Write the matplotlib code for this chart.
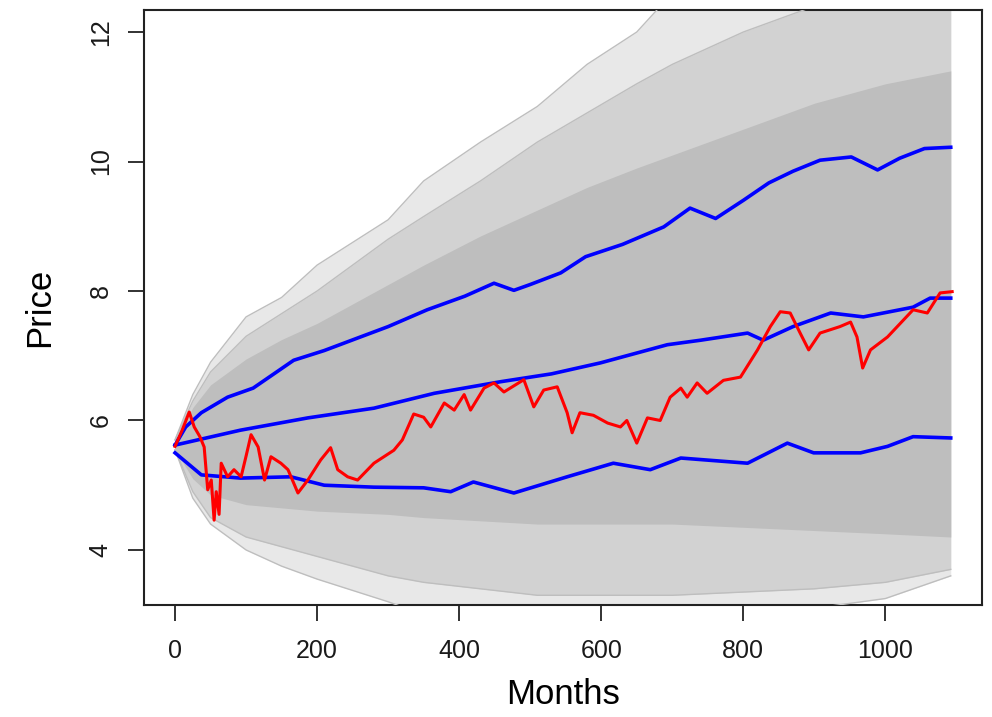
import matplotlib
matplotlib.use("Agg")
import numpy as np
import matplotlib.pyplot as plt

# ---- datos (meses, precio) ----
# banda gris: envolventes de las trayectorias simuladas
band_months = [0, 25, 50, 100, 150, 200, 300, 350, 430, 510, 580, 650, 700, 800, 900, 1000, 1092]
core_upper = [5.65, 6.2, 6.55, 6.95, 7.25, 7.5, 8.1, 8.4, 8.85, 9.25, 9.6, 9.9, 10.1, 10.5, 10.9, 11.2, 11.4]
mid_upper = [5.7, 6.3, 6.75, 7.3, 7.65, 8.0, 8.8, 9.15, 9.7, 10.3, 10.75, 11.2, 11.5, 12.0, 12.4, 12.6, 12.6]
outer_upper = [5.7, 6.4, 6.9, 7.6, 7.9, 8.4, 9.1, 9.7, 10.3, 10.85, 11.5, 12.0, 12.6, 12.6, 12.6, 12.6, 12.6]
core_lower = [5.55, 5.1, 4.85, 4.7, 4.65, 4.6, 4.55, 4.5, 4.45, 4.4, 4.4, 4.4, 4.4, 4.35, 4.3, 4.25, 4.2]
mid_lower = [5.55, 4.9, 4.5, 4.2, 4.05, 3.9, 3.6, 3.5, 3.4, 3.3, 3.3, 3.3, 3.3, 3.35, 3.4, 3.5, 3.7]
outer_lower = [5.55, 4.8, 4.4, 4.0, 3.75, 3.55, 3.2, 3.0, 3.0, 3.0, 3.0, 3.0, 3.0, 3.0, 3.1, 3.25, 3.6]

# cuantiles (azul)
upper_m = [0, 15, 37, 74, 110, 167, 210, 261, 300, 355, 408, 449, 477, 500, 543, 578, 630,
           688, 725, 761, 800, 836, 870, 908, 952, 989, 1020, 1055, 1092]
upper_p = [5.62, 5.9, 6.12, 6.36, 6.5, 6.93, 7.08, 7.29, 7.45, 7.71, 7.92, 8.12, 8.01, 8.1, 8.28, 8.53, 8.72,
           8.99, 9.28, 9.12, 9.4, 9.67, 9.85, 10.02, 10.07, 9.87, 10.05, 10.2, 10.22]
median_m = [0, 92, 187, 280, 365, 459, 530, 599, 693, 740, 806, 828, 870, 923, 969, 1039, 1063, 1092]
median_p = [5.62, 5.85, 6.04, 6.19, 6.42, 6.6, 6.72, 6.89, 7.17, 7.24, 7.35, 7.24, 7.45, 7.66, 7.6, 7.75, 7.89, 7.89]
lower_m = [0, 37, 92, 163, 210, 280, 350, 388, 420, 477, 552, 617, 669, 712, 806, 862, 899, 965,
           1003, 1039, 1092]
lower_p = [5.5, 5.16, 5.11, 5.13, 5.0, 4.97, 4.96, 4.9, 5.05, 4.88, 5.13, 5.34, 5.24, 5.42, 5.34, 5.65, 5.5, 5.5,
           5.6, 5.75, 5.73]

# trayectoria real (rojo)
red_m = [0, 10, 20, 27, 35, 41, 46, 51, 55, 58, 62, 65, 74, 83, 93, 100, 107, 117, 126, 135, 149, 159,
         173, 187, 205, 219, 229, 243, 257, 280, 308, 320, 336, 350, 360, 379, 393, 407, 416, 435, 449,
         463, 491, 505, 519, 538, 552, 559, 570, 589, 609, 627, 636, 650, 665, 683, 697, 712, 721, 735,
         749, 772, 796, 820, 838, 852, 866, 880, 892, 908, 936, 951, 960, 968, 979, 1003, 1021, 1039,
         1059, 1077, 1094]
red_p = [5.6, 5.85, 6.13, 5.9, 5.75, 5.59, 4.93, 5.08, 4.46, 4.9, 4.55, 5.34, 5.13, 5.24, 5.13, 5.45,
         5.78, 5.59, 5.08, 5.44, 5.34, 5.24, 4.88, 5.08, 5.39, 5.58, 5.24, 5.13, 5.08, 5.34, 5.54, 5.7,
         6.1, 6.05, 5.9, 6.27, 6.16, 6.4, 6.16, 6.5, 6.58, 6.44, 6.63, 6.21, 6.47, 6.52, 6.12, 5.81,
         6.12, 6.08, 5.96, 5.9, 6.0, 5.65, 6.04, 6.0, 6.36, 6.5, 6.36, 6.58, 6.42, 6.62, 6.67, 7.09,
         7.45, 7.68, 7.66, 7.35, 7.09, 7.35, 7.45, 7.52, 7.29, 6.81, 7.09, 7.29, 7.5, 7.71, 7.66, 7.97,
         7.99]

x_ticks = [0, 200, 400, 600, 800, 1000]
y_ticks = [4, 6, 8, 10, 12]

plt.rcParams['font.family'] = ['Liberation Sans', 'DejaVu Sans']

fig = plt.figure(figsize=(9.92, 7.17), dpi=100)
ax = fig.add_axes([144 / 992, 112 / 717, 838 / 992, 595 / 717])

GRAY = '#bebebe'
ax.fill_between(band_months, outer_lower, outer_upper, color='#e8e8e8', lw=0, zorder=1)
ax.fill_between(band_months, mid_lower, mid_upper, color='#d2d2d2', lw=0, zorder=2)
ax.fill_between(band_months, core_lower, core_upper, color=GRAY, lw=0, zorder=3)
for env in (outer_upper, outer_lower, mid_upper, mid_lower):
    ax.plot(band_months, env, color=GRAY, lw=1.0, zorder=3)

for m, p in ((upper_m, upper_p), (median_m, median_p), (lower_m, lower_p)):
    ax.plot(m, p, color='#0000ff', lw=2.6, zorder=5)
ax.plot(red_m, red_p, color='#ff0000', lw=2.2, zorder=6)

ax.set_xlim(-43.7, 1136)
ax.set_ylim(3.15, 12.34)
ax.set_xticks(x_ticks)
ax.set_yticks(y_ticks)
ax.tick_params(axis='both', length=11.5, width=1.3, color='#222222', labelsize=18, labelcolor='#1a1a1a')
ax.tick_params(axis='x', pad=13)
ax.tick_params(axis='y', pad=11)
for lab in ax.get_yticklabels():
    lab.set_rotation(90)
    lab.set_va('center')
for s in ax.spines.values():
    s.set_linewidth(1.5)
    s.set_color('#222222')

ax.set_xlabel('Months', fontsize=25, va='center')
ax.set_ylabel('Price', fontsize=25, va='center')
ax.xaxis.set_label_coords(0.5, -0.151)
ax.yaxis.set_label_coords(-0.124, 0.5)

fig.savefig('out.png', dpi=100)
